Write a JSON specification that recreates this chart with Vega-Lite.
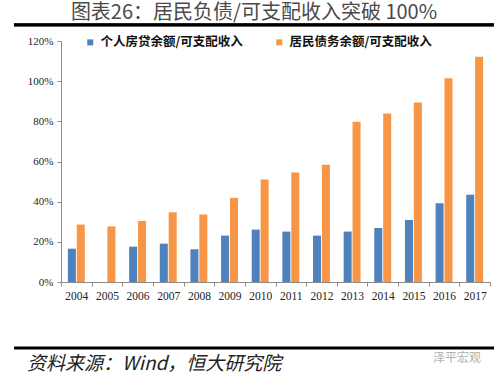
{
  "$schema": "https://vega.github.io/schema/vega-lite/v6.json",
  "padding": {"left": 12, "top": 3, "right": 3, "bottom": 6},
  "background": "white",
  "width": 480,
  "height": 326,
  "config": {"view": {"stroke": null}},
  "title": {
    "text": "图表26：居民负债/可支配收入突破 100%",
    "orient": "top", "anchor": "middle", "frame": "group",
    "font": "Noto Sans CJK SC", "fontSize": 20, "fontWeight": "normal", "color": "#4a4a4a",
    "offset": 0
  },
  "layer": [
    {
      "data": {"values": [
        {"year": "2004", "series": "个人房贷余额/可支配收入", "value": 0.166},
        {"year": "2004", "series": "居民债务余额/可支配收入", "value": 0.286},
        {"year": "2005", "series": "居民债务余额/可支配收入", "value": 0.277},
        {"year": "2006", "series": "个人房贷余额/可支配收入", "value": 0.176},
        {"year": "2006", "series": "居民债务余额/可支配收入", "value": 0.304},
        {"year": "2007", "series": "个人房贷余额/可支配收入", "value": 0.191},
        {"year": "2007", "series": "居民债务余额/可支配收入", "value": 0.347},
        {"year": "2008", "series": "个人房贷余额/可支配收入", "value": 0.163},
        {"year": "2008", "series": "居民债务余额/可支配收入", "value": 0.336},
        {"year": "2009", "series": "个人房贷余额/可支配收入", "value": 0.231},
        {"year": "2009", "series": "居民债务余额/可支配收入", "value": 0.419},
        {"year": "2010", "series": "个人房贷余额/可支配收入", "value": 0.261},
        {"year": "2010", "series": "居民债务余额/可支配收入", "value": 0.510},
        {"year": "2011", "series": "个人房贷余额/可支配收入", "value": 0.251},
        {"year": "2011", "series": "居民债务余额/可支配收入", "value": 0.545},
        {"year": "2012", "series": "个人房贷余额/可支配收入", "value": 0.231},
        {"year": "2012", "series": "居民债务余额/可支配收入", "value": 0.584},
        {"year": "2013", "series": "个人房贷余额/可支配收入", "value": 0.251},
        {"year": "2013", "series": "居民债务余额/可支配收入", "value": 0.798},
        {"year": "2014", "series": "个人房贷余额/可支配收入", "value": 0.269},
        {"year": "2014", "series": "居民债务余额/可支配收入", "value": 0.839},
        {"year": "2015", "series": "个人房贷余额/可支配收入", "value": 0.309},
        {"year": "2015", "series": "居民债务余额/可支配收入", "value": 0.894},
        {"year": "2016", "series": "个人房贷余额/可支配收入", "value": 0.392},
        {"year": "2016", "series": "居民债务余额/可支配收入", "value": 1.014},
        {"year": "2017", "series": "个人房贷余额/可支配收入", "value": 0.435},
        {"year": "2017", "series": "居民债务余额/可支配收入", "value": 1.122}
      ]},
      "mark": {"type": "bar"},
      "encoding": {
        "x": {
          "field": "year", "type": "nominal",
          "scale": {"paddingInner": 0, "paddingOuter": 0, "range": [47, 476]},
          "axis": {
            "title": null, "labelAngle": 0, "tickBand": "extent", "offset": -67,
            "labelFont": "Liberation Serif", "labelFontSize": 11.5, "labelColor": "#222222",
            "domainColor": "#8c8c8c", "tickColor": "#8c8c8c", "tickSize": 4, "labelPadding": 4
          }
        },
        "xOffset": {
          "field": "series", "type": "nominal",
          "scale": {"domain": ["个人房贷余额/可支配收入", "居民债务余额/可支配收入"], "paddingInner": 0.1, "paddingOuter": 0.77}
        },
        "y": {
          "field": "value", "type": "quantitative",
          "scale": {"domain": [0, 1.2], "nice": false, "range": [259, 18]},
          "axis": {
            "title": null, "grid": false, "values": [0, 0.2, 0.4, 0.6, 0.8, 1.0, 1.2], "format": ".0%", "offset": -47,
            "labelFont": "Liberation Serif", "labelFontSize": 11, "labelColor": "#222222",
            "domainColor": "#8c8c8c", "tickColor": "#8c8c8c", "tickSize": 4, "labelPadding": 4
          }
        },
        "color": {
          "field": "series", "type": "nominal",
          "scale": {"domain": ["个人房贷余额/可支配收入", "居民债务余额/可支配收入"], "range": ["#4F81BD", "#F79646"]},
          "legend": {
            "orient": "none", "legendX": 70, "legendY": 13, "direction": "horizontal", "title": null,
            "symbolType": "square", "symbolSize": 36, "symbolStrokeWidth": 0,
            "labelFont": "Noto Sans CJK SC", "labelFontSize": 12.5, "labelFontWeight": "bold", "labelColor": "#111111",
            "columnPadding": 30, "padding": 0, "labelOffset": 4
          }
        }
      }
    },
    {
      "data": {"values": [{"c": "top", "v": 1.28}, {"c": "bottom", "v": -0.3286}]},
      "mark": {"type": "rule", "strokeWidth": 3, "color": "#000000"},
      "encoding": {
        "y": {"field": "v", "type": "quantitative"}
      }
    },
    {
      "data": {"values": [{"c": "top", "lo": 1.273, "hi": 1.288}]},
      "mark": {"type": "rect", "color": "#000000"},
      "encoding": {
        "y": {"field": "lo", "type": "quantitative"},
        "y2": {"field": "hi"}
      }
    },
    {
      "data": {"values": [{"wm": "泽平宏观", "year": "2016", "v": -0.378}]},
      "mark": {"type": "text", "font": "Noto Sans CJK SC", "fontSize": 12, "color": "#b0b0b0", "baseline": "middle", "align": "center"},
      "encoding": {
        "x": {"field": "year", "type": "nominal", "bandPosition": 0.92},
        "y": {"field": "v", "type": "quantitative"},
        "text": {"field": "wm"}
      }
    },
    {
      "data": {"values": [{"src": "资料来源：Wind，恒大研究院", "year": "2004", "v": -0.41}]},
      "mark": {"type": "text", "font": "Noto Sans CJK SC", "fontSize": 19, "fontStyle": "italic", "color": "#222222", "baseline": "middle", "align": "left"},
      "encoding": {
        "x": {"field": "year", "type": "nominal", "bandPosition": -1.11},
        "y": {"field": "v", "type": "quantitative"},
        "text": {"field": "src"}
      }
    }
  ]
}
